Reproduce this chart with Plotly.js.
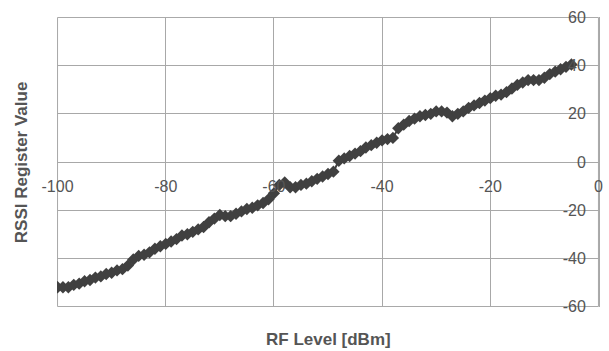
<!DOCTYPE html>
<html>
<head>
<meta charset="utf-8">
<script src="https://cdn.plot.ly/plotly-3.0.1.min.js"></script>
<style>html,body{margin:0;padding:0;background:#fff;}#chart{width:609px;height:351px;}</style>
</head>
<body>
<div id="chart"></div>
<script>
// RF level (dBm)
var rfLevel = [];
for (var i = -100; i <= -5; i++) rfLevel.push(i);
// RSSI register values
var rssiValue = [
  -52, -52, -52, -51, -50.5, -49.5, -49, -48, -47.5, -46.5,
  -46, -45, -44.5, -43, -40.5, -39, -38.5, -37.5, -36, -35,
  -34, -33, -32, -30.5, -30, -29, -28, -27, -25, -23.5,
  -22, -22.5, -22.5, -21.5, -20.5, -19.5, -19, -18, -17, -15.5,
  -13, -9.5, -8.5, -10.5, -10.5, -9.5, -9, -8, -7, -6,
  -5, -4, 0.5, 1.5, 2.5, 3.5, 4.5, 6, 7, 8,
  9, 9.5, 10, 14, 15.5, 17, 18, 19, 19.5, 20,
  21, 21, 20.5, 19, 20, 21, 22.5, 23.5, 24.5, 25.5,
  26.5, 27.5, 28, 29, 30.5, 32, 33, 34, 34, 34,
  35, 36.5, 37.5, 38.5, 39.5, 40.5
];
var xTicks = [-100, -80, -60, -40, -20, 0];
var yTicks = [-60, -40, -20, 0, 20, 40, 60];
var xTitle = 'RF Level [dBm]';
var yTitle = 'RSSI Register Value';

var textColor = '#555555';
var gridColor = '#a8a8a8';

var trace = {
  x: rfLevel,
  y: rssiValue,
  type: 'scatter',
  mode: 'lines+markers',
  line: {color: '#404040', width: 2},
  marker: {symbol: 'diamond', size: 9.5, color: '#404040'},
  showlegend: false,
  hoverinfo: 'none'
};

var layout = {
  width: 609,
  height: 351,
  margin: {l: 57, r: 10, t: 17, b: 44, pad: 0},
  paper_bgcolor: '#ffffff',
  plot_bgcolor: '#ffffff',
  font: {family: 'Liberation Sans, Arial, sans-serif', color: textColor, size: 16},
  xaxis: {
    range: [-100.1, 0.1],
    tickvals: xTicks,
    ticktext: xTicks.map(String),
    showgrid: true,
    gridcolor: gridColor,
    gridwidth: 1,
    zeroline: false,
    showline: false,
    anchor: 'free',
    position: 0.5,
    ticks: 'outside',
    ticklen: 10,
    tickcolor: 'rgba(0,0,0,0)',
    tickfont: {size: 16, color: textColor},
    automargin: false
  },
  yaxis: {
    range: [-60.2, 60.2],
    tickvals: yTicks,
    ticktext: yTicks.map(String),
    side: 'left',
    anchor: 'free',
    position: 1,
    ticks: 'outside',
    ticklen: 10,
    tickcolor: 'rgba(0,0,0,0)',
    showgrid: true,
    gridcolor: gridColor,
    gridwidth: 1,
    zeroline: false,
    showline: true,
    linecolor: gridColor,
    linewidth: 1,
    tickfont: {size: 16, color: textColor},
    automargin: false
  },
  shapes: [
    {type: 'rect', xref: 'x', yref: 'y', x0: xTicks[0], x1: xTicks[xTicks.length - 1],
     y0: yTicks[0], y1: yTicks[yTicks.length - 1], layer: 'below',
     line: {color: gridColor, width: 1}, fillcolor: 'rgba(0,0,0,0)'}
  ],
  annotations: [
    {text: xTitle, xref: 'paper', yref: 'paper', x: 0.5, y: -0.113, xanchor: 'center', yanchor: 'middle',
     showarrow: false, font: {size: 17, color: textColor, family: 'Liberation Sans, Arial, sans-serif', weight: 'bold'}},
    {text: yTitle, xref: 'paper', yref: 'paper', x: -0.066, y: 0.5, xanchor: 'center', yanchor: 'middle',
     textangle: -90, showarrow: false, font: {size: 17, color: textColor, family: 'Liberation Sans, Arial, sans-serif', weight: 'bold'}}
  ]
};

Plotly.newPlot('chart', [trace], layout, {staticPlot: true, displayModeBar: false});
</script>
</body>
</html>
